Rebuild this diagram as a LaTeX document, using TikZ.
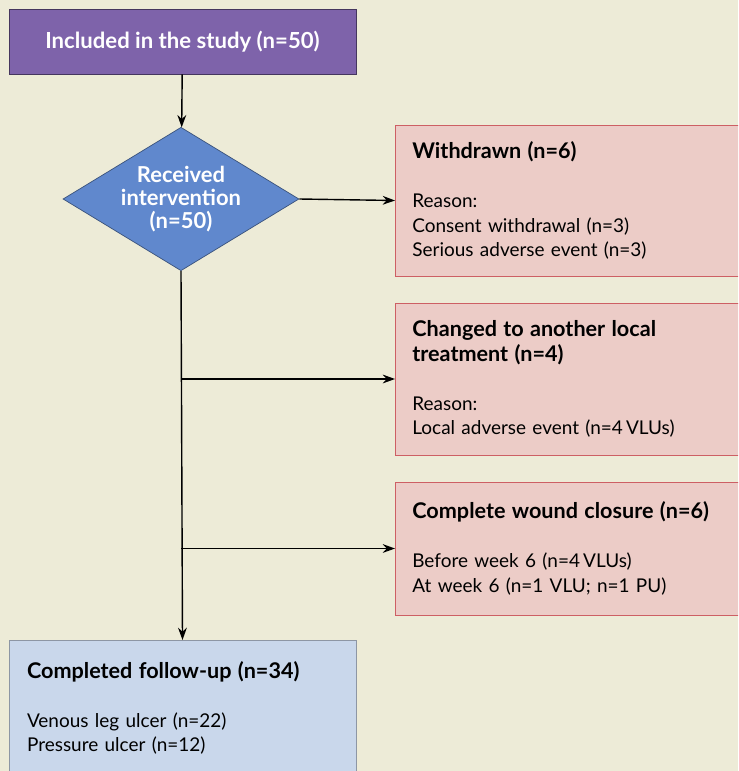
\documentclass[tikz,border=0pt]{standalone}
\usepackage{fontspec}
\setmainfont{Lato}
\usepackage{tikz}
\usetikzlibrary{arrows.meta,positioning,shapes.geometric}
\usepackage{xcolor}
\definecolor{flowcream}{RGB}{237,235,215}
\definecolor{flowpurple}{RGB}{126,99,170}
\definecolor{flowblue}{RGB}{96,136,205}
\definecolor{flowpink}{RGB}{236,204,199}
\definecolor{flowred}{RGB}{205,95,100}
\definecolor{flowsky}{RGB}{201,215,235}
\newcommand{\flowhead}[1]{{\fontsize{12.3}{14}\selectfont\bfseries #1}}

\begin{document}
\begin{tikzpicture}[
  x=0.02cm,y=-0.02cm,
  font=\fontsize{10.8}{14}\selectfont,
  topbox/.style={draw=flowpurple!55!black,fill=flowpurple,text=white,
    font=\fontsize{12.6}{13}\selectfont\bfseries,
    minimum width=6.94cm,minimum height=1.30cm},
  decision/.style={diamond,draw=flowblue!60!black,fill=flowblue,text=white,
    font=\fontsize{12.5}{13}\selectfont\bfseries,align=center,
    inner sep=-6pt,minimum width=4.72cm,minimum height=2.36cm},
  exitbox/.style={draw=flowred,fill=flowpink,align=left,anchor=west,
    inner xsep=0.34cm,text width=6.62cm},
  endbox/.style={draw=flowsky!70!black,fill=flowsky,align=left,anchor=north,
    inner xsep=0.36cm,text width=6.22cm,minimum height=2.7cm},
  flow/.style={->,line width=0.8pt},
  >={Stealth[length=7pt,width=5pt]}
]
  \useasboundingbox (0,0) rectangle (738,771);
  \clip (0,0) rectangle (738,771);
  \fill[flowcream] (0,0) rectangle (738,771);

  \node[topbox] (incl) at (182.5,41.5) {Included in the study (n=50)};
  \node[decision] (recv) at (181,199) {Received\\intervention\\(n=50)};

  \node[exitbox,minimum height=3.02cm] (wdrw) at (395,200.5)
    {\flowhead{Withdrawn (n=6)}\\[14pt]
     Reason:\\Consent withdrawal (n=3)\\Serious adverse event (n=3)};
  \node[exitbox,minimum height=3.04cm] (chng) at (395,379)
    {\flowhead{Changed to another local}\\\flowhead{treatment (n=4)}\\[14pt]
     Reason:\\Local adverse event (n=4\,VLUs)};
  \node[exitbox,minimum height=2.66cm] (clos) at (395,548.5)
    {\flowhead{Complete wound closure (n=6)}\\[14pt]
     Before week 6 (n=4\,VLUs)\\At week 6 (n=1 VLU; n=1 PU)};

  \node[endbox] (fllw) at (182.5,640)
    {\flowhead{Completed follow-up (n=34)}\\[14pt]
     Venous leg ulcer (n=22)\\Pressure ulcer (n=12)};

  \draw[flow] (incl) -- (recv);
  \draw[flow] (recv.east) -- (wdrw.west);
  \draw[flow] (recv.south) -- (fllw.north);
  \draw[flow] (recv.south |- chng.west) -- (chng.west);
  \draw[flow] (recv.south |- clos.west) -- (clos.west);
\end{tikzpicture}
\end{document}
